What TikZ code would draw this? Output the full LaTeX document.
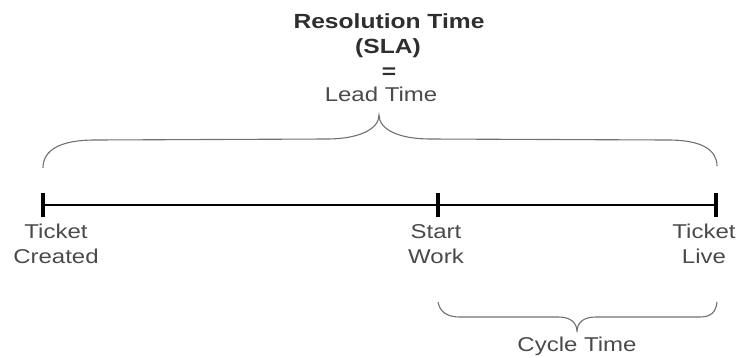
\documentclass[tikz,border=0pt]{standalone}
\usepackage{fontspec}
\setmainfont{Liberation Sans}[FakeStretch=1.2]
\definecolor{txtgray}{HTML}{4A4A4A}
\definecolor{titlegray}{HTML}{2E2E2E}
\definecolor{bracegray}{HTML}{707070}
\begin{document}
\begin{tikzpicture}[x=1pt,y=-1pt,
  lbl/.style={text=txtgray,align=center,inner sep=0pt,font=\fontsize{20}{25.5}\selectfont},
  ttl/.style={text=titlegray,inner sep=0pt,font=\fontsize{20.5}{25}\selectfont\bfseries},
  timeline/.style={line width=2.6pt,black},
  tickmark/.style={line width=3.6pt,black},
  bracepath/.style={line width=1.1pt,bracegray}]
\useasboundingbox (0,0) rectangle (739,357);
% timeline points
\coordinate (created) at (43,205);
\coordinate (start) at (438,205);
\coordinate (live) at (716,205);
\draw[timeline] (created) -- (start) -- (live);
\foreach \p in {created,start,live}
  \draw[tickmark] ([yshift=-12pt]\p) -- ([yshift=12pt]\p);
% labels
\node[lbl] (lcreated) at (56,244) {Ticket\\Created};
\node[lbl] (lstart) at (436,244) {Start\\Work};
\node[lbl] (llive) at (704,244) {Ticket\\Live};
% title
\node[ttl] (t1) at (389,21) {Resolution Time};
\node[ttl] (t2) at (388,48) {(SLA)};
\node[ttl] (t3) at (389,73) {=};
\node[lbl] (t4) at (381,94) {Lead Time};
% upper brace
\coordinate (ua) at (43,168);
\coordinate (ub) at (717,166);
\coordinate (utip) at (379,115);
\draw[bracepath] (ua) .. controls (43,150) and (60,140) .. (95,140) -- (327,139)
  .. controls (357,139) and (379,130) .. (utip)
  .. controls (379,130) and (400,139) .. (430,139) -- (668,140)
  .. controls (702,140) and (717,150) .. (ub);
% lower brace
\coordinate (la) at (438,302);
\coordinate (lb) at (717,302);
\coordinate (ltip) at (577,332);
\draw[bracepath] (la) .. controls (440,312) and (447,317) .. (460,317) -- (558,317)
  .. controls (570,317) and (577,322) .. (ltip)
  .. controls (577,322) and (584,317) .. (596,317) -- (700,317)
  .. controls (711,317) and (716,312) .. (lb);
\node[lbl] (cycle) at (577,346) {Cycle Time};
\end{tikzpicture}
\end{document}
